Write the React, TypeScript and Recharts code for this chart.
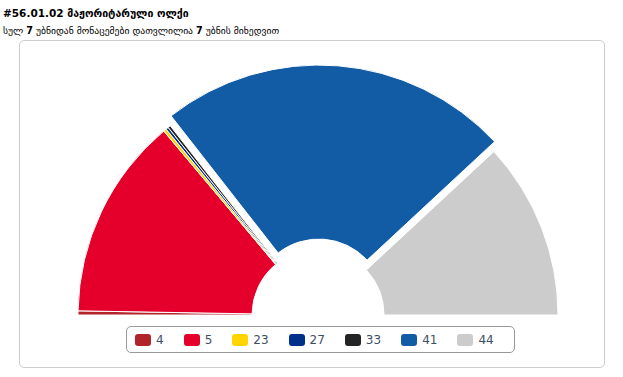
import { Cell, Pie, PieChart } from "recharts";

const parties = ["4", "5", "23", "27", "33", "41", "44"];
const shares = [0.55, 27.2, 0.4, 0.35, 0.35, 47.2, 23.8];
const colors = ["#b3232a", "#e4002b", "#ffd400", "#00308a", "#242424", "#125ca5", "#cccccc"];
const slicedParty = "41";

const data = parties.map((name, i) => ({ name, value: shares[i] }));

const CX = 298;
const CY = 274;
const SLICE_OFFSET = 10;

// mid angle of the pulled-out slice, from the data
const total = shares.reduce((a, b) => a + b, 0);
const si = parties.indexOf(slicedParty);
const before = shares.slice(0, si).reduce((a, b) => a + b, 0);
const mid = ((180 - ((before + shares[si] / 2) / total) * 180) * Math.PI) / 180;
const dx = SLICE_OFFSET * Math.cos(mid);
const dy = -SLICE_OFFSET * Math.sin(mid);

function LegendBox() {
  return (
    <div
      style={{
        position: "absolute",
        left: 106,
        top: 285,
        height: 25,
        border: "1px solid #999",
        borderRadius: 5,
        display: "flex",
        alignItems: "center",
        paddingLeft: 8,
        fontFamily: "'DejaVu Sans', sans-serif",
        fontSize: 12,
        color: "#3e4f63",
      }}
    >
      {parties.map((p, i) => (
        <div key={p} style={{ display: "flex", alignItems: "center", marginRight: 20 }}>
          <span
            style={{
              width: 16,
              height: 12,
              borderRadius: 3,
              background: colors[i],
              marginRight: 5,
              display: "inline-block",
            }}
          />
          <span>{p}</span>
        </div>
      ))}
    </div>
  );
}

export default function App() {
  return (
    <div
      style={{
        position: "absolute",
        left: 0,
        top: 0,
        width: 623,
        height: 377,
        background: "#fff",
        fontFamily: "'DejaVu Sans', sans-serif",
      }}
    >
      <div style={{ position: "absolute", left: 3, top: 7, fontSize: 10.5, fontWeight: "bold", color: "#000" }}>
        #56.01.02 მაჟორიტარული ოლქი
      </div>
      <div style={{ position: "absolute", left: 3, top: 25, fontSize: 9.6, color: "#000" }}>
        სულ <b>7</b> უბნიდან მონაცემები დათვლილია <b>7</b> უბნის მიხედვით
      </div>
      <div
        style={{
          position: "absolute",
          left: 19,
          top: 40,
          width: 584,
          height: 326,
          border: "1px solid #ccc",
          borderRadius: 5,
        }}
      >
        <PieChart width={584} height={326} margin={{ top: 0, right: 0, bottom: 0, left: 0 }}>
          <Pie
            data={data}
            dataKey="value"
            nameKey="name"
            cx={CX}
            cy={CY}
            startAngle={180}
            endAngle={0}
            innerRadius={66}
            outerRadius={240}
            stroke="#ffffff"
            strokeWidth={1}
            isAnimationActive={false}
          >
            {data.map((d, i) => (
              <Cell
                key={d.name}
                fill={d.name === slicedParty ? "none" : colors[i]}
                stroke={d.name === slicedParty ? "none" : "#ffffff"}
              />
            ))}
          </Pie>
          <Pie
            data={data}
            dataKey="value"
            nameKey="name"
            cx={CX + dx}
            cy={CY + dy}
            startAngle={180}
            endAngle={0}
            innerRadius={66}
            outerRadius={240}
            stroke="#ffffff"
            strokeWidth={1}
            isAnimationActive={false}
          >
            {data.map((d, i) => (
              <Cell
                key={d.name}
                fill={d.name === slicedParty ? colors[i] : "none"}
                stroke={d.name === slicedParty ? "#ffffff" : "none"}
              />
            ))}
          </Pie>
        </PieChart>
        <LegendBox />
      </div>
    </div>
  );
}
